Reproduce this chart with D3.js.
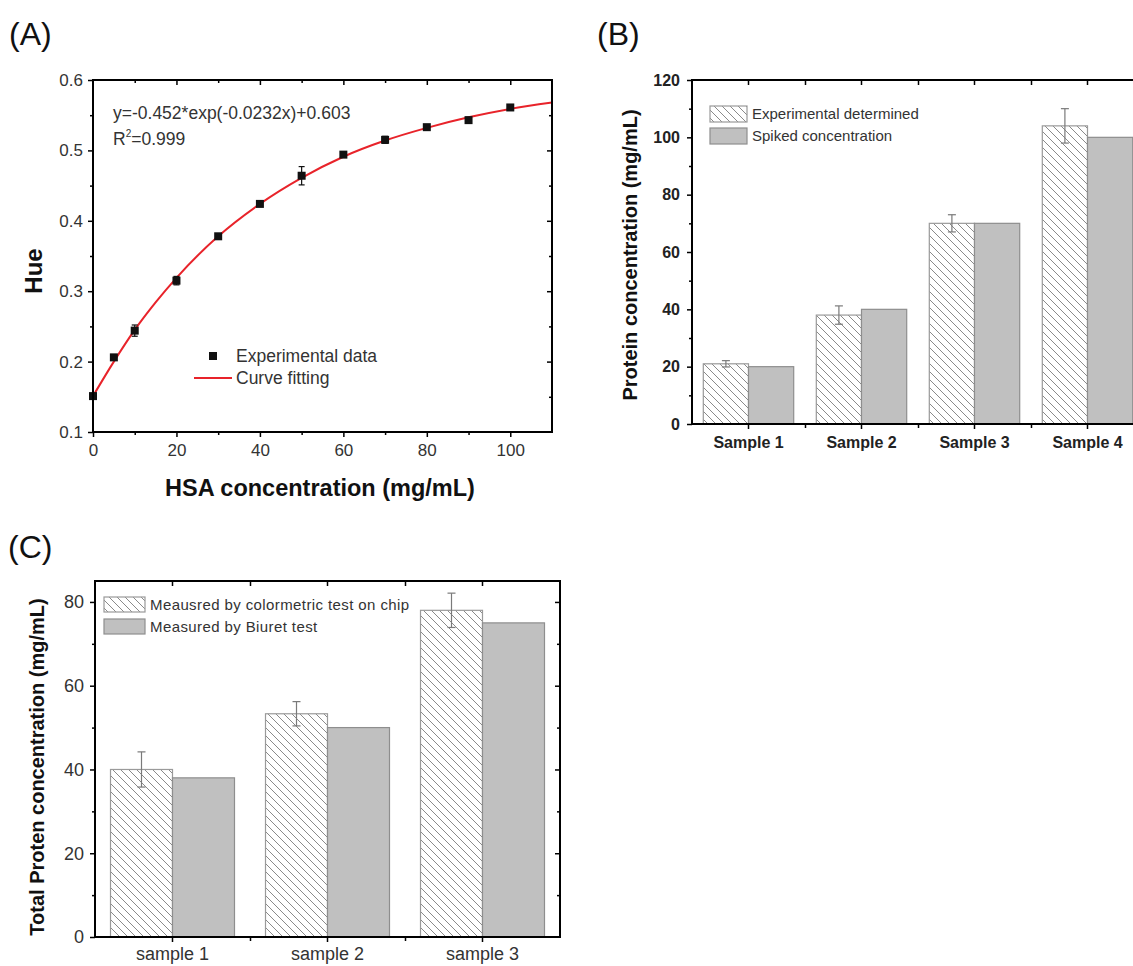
<!DOCTYPE html>
<html lang="en">
<head>
<meta charset="utf-8">
<script src="https://cdn.jsdelivr.net/npm/d3@7"></script>
<style>
  body { margin: 0; background: #fff; }
  svg { display: block; font-family: Arial, "Liberation Sans", sans-serif; }
</style>
</head>
<body>
<svg id="fig" width="1133" height="966"></svg>
<script>
// ---- panel A : hue vs HSA concentration
var hsaConc = [0, 5, 10, 20, 30, 40, 50, 60, 70, 80, 90, 100];
var hueVals = [0.151, 0.206, 0.244, 0.315, 0.378, 0.424, 0.464, 0.494, 0.515, 0.533, 0.543, 0.561];
var hueErr  = [0.002, 0.004, 0.008, 0.006, 0.003, 0.003, 0.013, 0.003, 0.005, 0.003, 0.002, 0.003];
// fitted curve
var fitX = [0, 5, 10, 15, 20, 30, 40, 50, 60, 70, 80, 90, 100, 110];
var fitY = [0.151, 0.200, 0.245, 0.284, 0.319, 0.378, 0.424, 0.461, 0.491, 0.514, 0.532, 0.547, 0.559, 0.568];

// ---- panel B : spiked samples
var samplesB = ["Sample 1", "Sample 2", "Sample 3", "Sample 4"];
var expB     = [21, 38, 70, 104];
var expErrB  = [1.1, 3.2, 3, 6];
var spikedB  = [20, 40, 70, 100];

// ---- panel C : total protein
var samplesC = ["sample 1", "sample 2", "sample 3"];
var chipC    = [40, 53.3, 78];
var chipErrC = [4.2, 2.9, 4.1];
var biuretC  = [38, 50, 75];

var svg = d3.select("#fig");
svg.append("rect").attr("width", 1133).attr("height", 966).attr("fill", "#fff");

var defs = svg.append("defs");
defs.append("pattern")
    .attr("id", "hatch")
    .attr("patternUnits", "userSpaceOnUse")
    .attr("width", 8).attr("height", 8)
  .append("path")
    .attr("d", "M0,0L8,8M-4,4L4,12M4,-4L12,4")
    .attr("stroke", "#8a8a8a").attr("stroke-width", 1);

// draw one axis, drop the domain line, style ticks
function ax(g, axis, tx, ty, font) {
    var a = g.append("g").attr("transform", "translate(" + tx + "," + ty + ")").call(axis);
    a.select(".domain").remove();
    a.selectAll(".tick line").attr("stroke", "#000").attr("stroke-width", 1.5);
    a.selectAll(".tick text")
        .attr("font-family", "Arial, 'Liberation Sans', sans-serif")
        .attr("font-size", font.size)
        .attr("font-weight", font.weight || "normal")
        .attr("fill", font.fill || "#333");
    return a;
}

function frame(g, x0, x1, y0, y1) {
    g.append("rect")
        .attr("x", x0).attr("y", y0)
        .attr("width", x1 - x0).attr("height", y1 - y0)
        .attr("fill", "none").attr("stroke", "#000").attr("stroke-width", 2);
}

function panelLabel(txt, x, y) {
    svg.append("text").attr("x", x).attr("y", y)
        .attr("font-size", 32).attr("fill", "#111").text(txt);
}

// =============== (A) ===============
panelLabel("(A)", 9, 45);
var gA = svg.append("g");
var xA = d3.scaleLinear().domain([0, 110]).range([93, 552]);
var yA = d3.scaleLinear().domain([0.1, 0.6]).range([432, 80]);
var fA = { size: 17, fill: "#333" };
var none = function () { return ""; };

ax(gA, d3.axisLeft(yA).tickValues([0.1, 0.2, 0.3, 0.4, 0.5, 0.6]).tickSize(5).tickPadding(5).tickFormat(d3.format(".1f")), 93, 0, fA);
ax(gA, d3.axisLeft(yA).tickValues([0.15, 0.25, 0.35, 0.45, 0.55]).tickSize(3).tickFormat(none), 93, 0, fA);
ax(gA, d3.axisRight(yA).tickValues([0.2, 0.3, 0.4, 0.5]).tickSize(-5).tickFormat(none), 552, 0, fA);
ax(gA, d3.axisRight(yA).tickValues([0.15, 0.25, 0.35, 0.45, 0.55]).tickSize(-3).tickFormat(none), 552, 0, fA);
ax(gA, d3.axisBottom(xA).tickValues([0, 20, 40, 60, 80, 100]).tickSize(5).tickPadding(7), 0, 432, fA);
ax(gA, d3.axisBottom(xA).tickValues([10, 30, 50, 70, 90]).tickSize(3).tickFormat(none), 0, 432, fA);
ax(gA, d3.axisTop(xA).tickValues([20, 40, 60, 80, 100]).tickSize(-5).tickFormat(none), 0, 80, fA);
ax(gA, d3.axisTop(xA).tickValues([10, 30, 50, 70, 90]).tickSize(-3).tickFormat(none), 0, 80, fA);

var fitPts = fitX.map(function (d, i) { return [d, fitY[i]]; });
gA.append("path")
    .datum(fitPts)
    .attr("fill", "none").attr("stroke", "#e8232a").attr("stroke-width", 2)
    .attr("d", d3.line().x(function (d) { return xA(d[0]); }).y(function (d) { return yA(d[1]); }).curve(d3.curveMonotoneX));

var pts = hsaConc.map(function (d, i) { return { x: d, y: hueVals[i], e: hueErr[i] }; });
var eb = gA.append("g").attr("stroke", "#111").attr("stroke-width", 1.2);
pts.forEach(function (p) {
    var cx = xA(p.x);
    eb.append("line").attr("x1", cx).attr("x2", cx).attr("y1", yA(p.y - p.e)).attr("y2", yA(p.y + p.e));
    eb.append("line").attr("x1", cx - 3).attr("x2", cx + 3).attr("y1", yA(p.y - p.e)).attr("y2", yA(p.y - p.e));
    eb.append("line").attr("x1", cx - 3).attr("x2", cx + 3).attr("y1", yA(p.y + p.e)).attr("y2", yA(p.y + p.e));
});
gA.append("g").selectAll("rect").data(pts).enter().append("rect")
    .attr("x", function (d) { return xA(d.x) - 4; })
    .attr("y", function (d) { return yA(d.y) - 4; })
    .attr("width", 8).attr("height", 8).attr("fill", "#111");

frame(gA, 93, 552, 80, 432);

gA.append("text").attr("x", 113).attr("y", 119).attr("font-size", 17.5).attr("fill", "#333")
    .text("y=-0.452*exp(-0.0232x)+0.603");
var r2 = gA.append("text").attr("x", 113).attr("y", 145).attr("font-size", 17.5).attr("fill", "#333");
r2.append("tspan").text("R");
r2.append("tspan").attr("font-size", 10).attr("dy", -8).text("2");
r2.append("tspan").attr("dy", 8).text("=0.999");

// legend A
gA.append("rect").attr("x", 209).attr("y", 352).attr("width", 8).attr("height", 8).attr("fill", "#111");
gA.append("text").attr("x", 236).attr("y", 362).attr("font-size", 17.5).attr("fill", "#333").text("Experimental data");
gA.append("line").attr("x1", 194).attr("x2", 232).attr("y1", 378).attr("y2", 378)
    .attr("stroke", "#e8232a").attr("stroke-width", 2);
gA.append("text").attr("x", 236).attr("y", 384).attr("font-size", 17.5).attr("fill", "#333").text("Curve fitting");

gA.append("text")
    .attr("transform", "translate(42,271) rotate(-90)")
    .attr("text-anchor", "middle").attr("font-size", 24).attr("font-weight", "bold").attr("fill", "#111")
    .text("Hue");
gA.append("text")
    .attr("x", 320).attr("y", 496)
    .attr("text-anchor", "middle").attr("font-size", 23.5).attr("font-weight", "bold").attr("fill", "#111")
    .text("HSA concentration (mg/mL)");

// grouped bar panel helper
function barPanel(opt) {
    var g = svg.append("g");
    var x = d3.scaleBand().domain(opt.cats).range([opt.x0, opt.x1]).paddingInner(0).paddingOuter(0);
    var sub = d3.scaleBand().domain(["a", "b"]).range([0, x.bandwidth()]).paddingInner(0).paddingOuter(0.25);
    var y = d3.scaleLinear().domain([0, opt.ymax]).range([opt.y0, opt.y1]);
    var pos = d3.scaleLinear().domain([0, opt.cats.length]).range([opt.x0, opt.x1]);
    var bounds = d3.range(1, opt.cats.length);

    ax(g, d3.axisLeft(y).tickValues(opt.major).tickSize(5).tickPadding(opt.yPad), opt.x0, 0, opt.tickFont);
    ax(g, d3.axisLeft(y).tickValues(opt.minor).tickSize(3).tickFormat(none), opt.x0, 0, opt.tickFont);
    ax(g, d3.axisRight(y).tickValues(opt.major.slice(1)).tickSize(-5).tickFormat(none), opt.x1, 0, opt.tickFont);
    ax(g, d3.axisRight(y).tickValues(opt.minor).tickSize(-3).tickFormat(none), opt.x1, 0, opt.tickFont);
    ax(g, d3.axisBottom(x).tickSize(5).tickPadding(opt.xPad), 0, opt.y0, opt.catFont);
    ax(g, d3.axisBottom(pos).tickValues(bounds).tickSize(4).tickFormat(none), 0, opt.y0, opt.catFont);
    ax(g, d3.axisTop(x).tickSize(-5).tickFormat(none), 0, opt.y1, opt.catFont);
    ax(g, d3.axisTop(pos).tickValues(bounds).tickSize(-5).tickFormat(none), 0, opt.y1, opt.catFont);

    var rows = opt.cats.map(function (c, i) {
        return { c: c, a: opt.valsA[i], e: opt.errA[i], b: opt.valsB[i] };
    });
    var grp = g.append("g").selectAll("g").data(rows).enter().append("g")
        .attr("transform", function (d) { return "translate(" + x(d.c) + ",0)"; });
    grp.append("rect")
        .attr("x", sub("a")).attr("width", sub.bandwidth())
        .attr("y", function (d) { return y(d.a); })
        .attr("height", function (d) { return y(0) - y(d.a); })
        .attr("fill", "url(#hatch)").attr("stroke", "#9a9a9a").attr("stroke-width", 1.2);
    grp.append("rect")
        .attr("x", sub("b")).attr("width", sub.bandwidth())
        .attr("y", function (d) { return y(d.b); })
        .attr("height", function (d) { return y(0) - y(d.b); })
        .attr("fill", "#c0c0c0").attr("stroke", "#8e8e8e").attr("stroke-width", 1.2);
    var cx = sub("a") + sub.bandwidth() / 2;
    var e = grp.append("g").attr("stroke", "#7a7a7a").attr("stroke-width", 1.2);
    e.append("line").attr("x1", cx).attr("x2", cx)
        .attr("y1", function (d) { return y(d.a - d.e); }).attr("y2", function (d) { return y(d.a + d.e); });
    e.append("line").attr("x1", cx - 4).attr("x2", cx + 4)
        .attr("y1", function (d) { return y(d.a + d.e); }).attr("y2", function (d) { return y(d.a + d.e); });
    e.append("line").attr("x1", cx - 4).attr("x2", cx + 4)
        .attr("y1", function (d) { return y(d.a - d.e); }).attr("y2", function (d) { return y(d.a - d.e); });

    frame(g, opt.x0, opt.x1, opt.y1, opt.y0);

    // legend
    var L = opt.legend;
    g.append("rect").attr("x", L.x).attr("y", L.y).attr("width", L.w).attr("height", L.h)
        .attr("fill", "url(#hatch)").attr("stroke", "#9a9a9a").attr("stroke-width", 1.2);
    g.append("rect").attr("x", L.x).attr("y", L.y + L.gap).attr("width", L.w).attr("height", L.h)
        .attr("fill", "#c0c0c0").attr("stroke", "#8e8e8e").attr("stroke-width", 1.2);
    [L.textA, L.textB].forEach(function (t, i) {
        g.append("text").attr("x", L.x + L.w + 5).attr("y", L.y + L.h / 2 + i * L.gap)
            .attr("dy", "0.36em").attr("font-size", L.size).attr("letter-spacing", L.ls || 0)
            .attr("fill", "#333").text(t);
    });

    g.append("text")
        .attr("transform", "translate(" + opt.ylab.x + "," + opt.ylab.y + ") rotate(-90)")
        .attr("text-anchor", "middle").attr("font-size", opt.ylab.size).attr("font-weight", "bold")
        .attr("fill", "#111").text(opt.ylab.text);
}

// =============== (B) ===============
panelLabel("(B)", 597, 45);
barPanel({
    cats: samplesB, valsA: expB, errA: expErrB, valsB: spikedB,
    x0: 692, x1: 1144, y0: 424, y1: 80, ymax: 120,
    major: [0, 20, 40, 60, 80, 100, 120], minor: [10, 30, 50, 70, 90, 110],
    yPad: 7, xPad: 8,
    tickFont: { size: 16, weight: "bold", fill: "#222" },
    catFont: { size: 16, weight: "bold", fill: "#222" },
    legend: { x: 710, y: 106, w: 37, h: 16, gap: 22, size: 15,
              textA: "Experimental determined", textB: "Spiked concentration" },
    ylab: { x: 637, y: 255, size: 20, text: "Protein concentration (mg/mL)" }
});

// =============== (C) ===============
panelLabel("(C)", 8, 558);
barPanel({
    cats: samplesC, valsA: chipC, errA: chipErrC, valsB: biuretC,
    x0: 95, x1: 560, y0: 937, y1: 581, ymax: 85,
    major: [0, 20, 40, 60, 80], minor: [10, 30, 50, 70],
    yPad: 6, xPad: 5,
    tickFont: { size: 18, fill: "#333" },
    catFont: { size: 18, fill: "#333" },
    legend: { x: 104, y: 597, w: 41, h: 15, gap: 22, size: 15, ls: 0.4,
              textA: "Meausred by colormetric test on chip", textB: "Measured by Biuret test" },
    ylab: { x: 44, y: 767, size: 20, text: "Total Proten concentration (mg/mL)" }
});
</script>
</body>
</html>
